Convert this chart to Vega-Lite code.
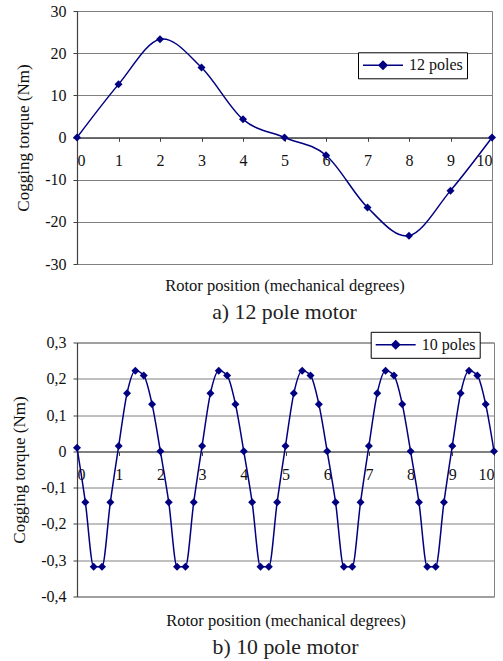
{
  "$schema": "https://vega.github.io/schema/vega-lite/v6.json",
  "background": "white",
  "padding": {"left": 10, "top": 2, "right": 2, "bottom": 0},
  "spacing": 6.5,
  "columns": 1,
  "align": "none",
  "config": {
    "font": "Liberation Serif",
    "view": {"stroke": "#808080", "strokeWidth": 1},
    "axis": {
      "labelFont": "Liberation Serif", "titleFont": "Liberation Serif",
      "labelColor": "#111", "titleColor": "#111", "titleFontWeight": "normal",
      "labelFontSize": 16, "titleFontSize": 16.5,
      "domainColor": "#404040", "tickColor": "#404040", "domainWidth": 1.2,
      "gridColor": "#808080", "gridOpacity": 1, "gridWidth": 1
    },
    "legend": {
      "labelFont": "Liberation Serif", "labelFontSize": 16, "labelColor": "#111",
      "strokeColor": "#000", "fillColor": "white", "padding": 4,
      "symbolType": "M-1,0L1,0M0,-0.2L0.2,0L0,0.2L-0.2,0Z",
      "symbolSize": 1600, "symbolStrokeWidth": 1.5,
      "symbolStrokeColor": "#000080", "symbolFillColor": "#000080",
      "labelOffset": 5, "clipHeight": 18
    },
    "title": {"font": "Liberation Serif", "fontSize": 21.8, "fontWeight": "normal", "color": "#222", "orient": "bottom"}
  },
  "concat": [
    {
      "width": 415, "height": 253,
      "title": {"text": "a) 12 pole motor", "orient": "bottom", "offset": 8},
      "data": {"values": [
        {"pos": 0, "torque": 0, "series": "12 poles"},
        {"pos": 1, "torque": 12.6, "series": "12 poles"},
        {"pos": 2, "torque": 23.3, "series": "12 poles"},
        {"pos": 3, "torque": 16.6, "series": "12 poles"},
        {"pos": 4, "torque": 4.3, "series": "12 poles"},
        {"pos": 5, "torque": 0, "series": "12 poles"},
        {"pos": 6, "torque": -4.2, "series": "12 poles"},
        {"pos": 7, "torque": -16.6, "series": "12 poles"},
        {"pos": 8, "torque": -23.3, "series": "12 poles"},
        {"pos": 9, "torque": -12.6, "series": "12 poles"},
        {"pos": 10, "torque": 0, "series": "12 poles"}
      ]},
      "encoding": {
        "x": {"field": "pos", "type": "quantitative",
          "scale": {"domain": [0, 10], "nice": false},
          "axis": {"values": [0,1,2,3,4,5,6,7,8,9,10], "grid": false, "offset": -126.7,
            "tickSize": 4, "labelPadding": 11, "title": "Rotor position (mechanical degrees)",
            "titleBaseline": "middle", "titleY": 147.7}},
        "y": {"field": "torque", "type": "quantitative",
          "scale": {"domain": [-30, 30], "nice": false},
          "axis": {"values": [-30,-20,-10,0,10,20,30], "grid": true, "tickSize": 4, "labelPadding": 7,
            "labelExpr": "replace(toString(datum.value), '.', ',')",
            "title": "Cogging torque (Nm)", "titleFontSize": 17, "titlePadding": 12}}
      },
      "layer": [
        {"mark": {"type": "line", "interpolate": "cardinal", "color": "#000080", "strokeWidth": 1.5}},
        {"mark": {"type": "point", "shape": "diamond", "filled": true, "size": 64, "opacity": 1},
          "encoding": {"color": {"field": "series", "type": "nominal", "scale": {"range": ["#000080"]},
            "legend": {"title": null, "orient": "none", "legendX": 281, "legendY": 41.3}}}}
      ]
    },
    {
      "width": 417, "height": 254,
      "title": {"text": "b) 10 pole motor", "orient": "bottom", "offset": 8},
      "data": {"values": [
        {"pos": 0, "torque": 0.01, "series": "10 poles"},
        {"pos": 0.2, "torque": -0.14, "series": "10 poles"},
        {"pos": 0.4, "torque": -0.318, "series": "10 poles"},
        {"pos": 0.6, "torque": -0.318, "series": "10 poles"},
        {"pos": 0.8, "torque": -0.14, "series": "10 poles"},
        {"pos": 1.0, "torque": 0.015, "series": "10 poles"},
        {"pos": 1.2, "torque": 0.16, "series": "10 poles"},
        {"pos": 1.4, "torque": 0.222, "series": "10 poles"},
        {"pos": 1.6, "torque": 0.209, "series": "10 poles"},
        {"pos": 1.8, "torque": 0.13, "series": "10 poles"},
        {"pos": 2.0, "torque": 0, "series": "10 poles"},
        {"pos": 2.2, "torque": -0.14, "series": "10 poles"},
        {"pos": 2.4, "torque": -0.318, "series": "10 poles"},
        {"pos": 2.6, "torque": -0.318, "series": "10 poles"},
        {"pos": 2.8, "torque": -0.14, "series": "10 poles"},
        {"pos": 3.0, "torque": 0.015, "series": "10 poles"},
        {"pos": 3.2, "torque": 0.16, "series": "10 poles"},
        {"pos": 3.4, "torque": 0.222, "series": "10 poles"},
        {"pos": 3.6, "torque": 0.209, "series": "10 poles"},
        {"pos": 3.8, "torque": 0.13, "series": "10 poles"},
        {"pos": 4.0, "torque": 0, "series": "10 poles"},
        {"pos": 4.2, "torque": -0.14, "series": "10 poles"},
        {"pos": 4.4, "torque": -0.318, "series": "10 poles"},
        {"pos": 4.6, "torque": -0.318, "series": "10 poles"},
        {"pos": 4.8, "torque": -0.14, "series": "10 poles"},
        {"pos": 5.0, "torque": 0.015, "series": "10 poles"},
        {"pos": 5.2, "torque": 0.16, "series": "10 poles"},
        {"pos": 5.4, "torque": 0.222, "series": "10 poles"},
        {"pos": 5.6, "torque": 0.209, "series": "10 poles"},
        {"pos": 5.8, "torque": 0.13, "series": "10 poles"},
        {"pos": 6.0, "torque": 0, "series": "10 poles"},
        {"pos": 6.2, "torque": -0.14, "series": "10 poles"},
        {"pos": 6.4, "torque": -0.318, "series": "10 poles"},
        {"pos": 6.6, "torque": -0.318, "series": "10 poles"},
        {"pos": 6.8, "torque": -0.14, "series": "10 poles"},
        {"pos": 7.0, "torque": 0.015, "series": "10 poles"},
        {"pos": 7.2, "torque": 0.16, "series": "10 poles"},
        {"pos": 7.4, "torque": 0.222, "series": "10 poles"},
        {"pos": 7.6, "torque": 0.209, "series": "10 poles"},
        {"pos": 7.8, "torque": 0.13, "series": "10 poles"},
        {"pos": 8.0, "torque": 0, "series": "10 poles"},
        {"pos": 8.2, "torque": -0.14, "series": "10 poles"},
        {"pos": 8.4, "torque": -0.318, "series": "10 poles"},
        {"pos": 8.6, "torque": -0.318, "series": "10 poles"},
        {"pos": 8.8, "torque": -0.14, "series": "10 poles"},
        {"pos": 9.0, "torque": 0.015, "series": "10 poles"},
        {"pos": 9.2, "torque": 0.16, "series": "10 poles"},
        {"pos": 9.4, "torque": 0.222, "series": "10 poles"},
        {"pos": 9.6, "torque": 0.209, "series": "10 poles"},
        {"pos": 9.8, "torque": 0.13, "series": "10 poles"},
        {"pos": 10.0, "torque": 0, "series": "10 poles"}
      ]},
      "encoding": {
        "x": {"field": "pos", "type": "quantitative",
          "scale": {"domain": [0, 10], "nice": false},
          "axis": {"values": [0,1,2,3,4,5,6,7,8,9,10], "grid": false, "offset": -145,
            "tickSize": 4, "labelPadding": 11, "title": "Rotor position (mechanical degrees)",
            "titleBaseline": "middle", "titleY": 168.7}},
        "y": {"field": "torque", "type": "quantitative",
          "scale": {"domain": [-0.4, 0.3], "nice": false},
          "axis": {"values": [-0.4,-0.3,-0.2,-0.1,0,0.1,0.2,0.3], "grid": true, "tickSize": 4, "labelPadding": 7,
            "labelExpr": "replace(toString(datum.value), '.', ',')",
            "title": "Cogging torque (Nm)", "titleFontSize": 17, "titlePadding": 12}}
      },
      "layer": [
        {"mark": {"type": "line", "interpolate": "monotone", "color": "#000080", "strokeWidth": 1.5}},
        {"mark": {"type": "point", "shape": "diamond", "filled": true, "size": 64, "opacity": 1},
          "encoding": {"color": {"field": "series", "type": "nominal", "scale": {"range": ["#000080"]},
            "legend": {"title": null, "orient": "none", "legendX": 293.7, "legendY": -10.7}}}}
      ]
    }
  ],
  "resolve": {"scale": {"color": "independent"}}
}
